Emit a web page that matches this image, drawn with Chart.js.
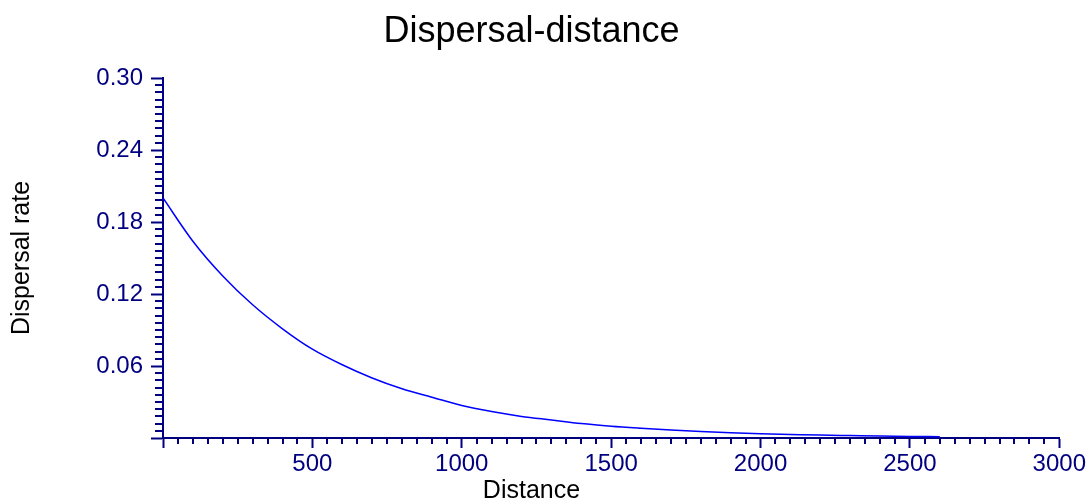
<!DOCTYPE html>
<html>
<head>
<meta charset="utf-8">
<title>Dispersal-distance</title>
<script src="https://cdn.jsdelivr.net/npm/chart.js@4.4.1/dist/chart.umd.min.js"></script>
<style>
  html, body { margin: 0; padding: 0; background: #fff; }
  #wrap { width: 1090px; height: 504px; position: relative; }
</style>
</head>
<body>
<div id="wrap"><canvas id="chart"></canvas></div>
<script>
// values
const distances = [0, 100, 200, 300, 400, 500, 600, 700, 800, 900, 1000, 1100, 1200, 1300,
                   1400, 1500, 1600, 1700, 1800, 1900, 2000, 2100, 2200, 2300, 2400, 2500, 2600];
const rates = [0.200, 0.164, 0.135, 0.111, 0.091, 0.074, 0.061, 0.050, 0.041, 0.034, 0.027,
               0.022, 0.018, 0.015, 0.012, 0.0098, 0.0081, 0.0066, 0.0054, 0.0044, 0.0036,
               0.0030, 0.0024, 0.0020, 0.0016, 0.0013, 0.0011];

const xRange = [0, 3000];
const xMajorStep = 500;
const xMinorStep = 50;
const yRange = [0, 0.30];
const yMajorStep = 0.06;
const yMinorStep = 0.006;

const NAVY = '#000080';
const FONT = 'Liberation Sans, Arial, sans-serif';

// small minor ticks between the labelled ones
const minorTicks = {
    id: 'minorTicks',
    afterDraw(chart) {
        const ctx = chart.ctx;
        const xs = chart.scales.x;
        const ys = chart.scales.y;
        ctx.save();
        ctx.strokeStyle = NAVY;
        ctx.lineWidth = 2;
        ctx.beginPath();
        const nx = Math.round((xRange[1] - xRange[0]) / xMinorStep);
        for (let i = 0; i <= nx; i++) {
            const v = xRange[0] + i * xMinorStep;
            if (i % 10 === 0) continue;
            const px = Math.round(xs.getPixelForValue(v));
            ctx.moveTo(px, xs.top);
            ctx.lineTo(px, xs.top + 6);
        }
        const ny = Math.round((yRange[1] - yRange[0]) / yMinorStep);
        for (let i = 0; i <= ny; i++) {
            const v = yRange[0] + i * yMinorStep;
            if (i % 10 === 0) continue;
            const py = Math.round(ys.getPixelForValue(v));
            ctx.moveTo(ys.right, py);
            ctx.lineTo(ys.right - 8, py);
        }
        ctx.stroke();
        ctx.restore();
    }
};

new Chart(document.getElementById('chart'), {
    type: 'line',
    data: {
        datasets: [{
            data: distances.map((d, i) => ({ x: d, y: rates[i] })),
            borderColor: '#0000ff',
            borderWidth: 1.5,
            pointRadius: 0,
            fill: false,
            cubicInterpolationMode: 'monotone'
        }]
    },
    options: {
        responsive: true,
        maintainAspectRatio: false,
        animation: false,
        layout: { padding: { left: 0, right: 27, top: 0, bottom: 0 } },
        plugins: {
            legend: { display: false },
            tooltip: { enabled: false },
            title: {
                display: true,
                text: 'Dispersal-distance',
                color: '#000',
                font: { family: FONT, size: 36, weight: 'normal', lineHeight: 1 },
                padding: { top: 14, bottom: 28 }
            },
            subtitle: {
                display: true,
                position: 'bottom',
                text: 'Distance',
                color: '#000',
                font: { family: FONT, size: 25, weight: 'normal', lineHeight: 1 },
                padding: { top: 8, bottom: 0 }
            }
        },
        scales: {
            x: {
                type: 'linear',
                min: xRange[0],
                max: xRange[1],
                afterFit: (s) => { s.height = 33; },
                border: { display: true, color: NAVY, width: 2 },
                grid: { drawOnChartArea: false, drawTicks: true, tickLength: 10, tickColor: NAVY, tickWidth: 2 },
                ticks: {
                    stepSize: xMajorStep,
                    color: NAVY,
                    padding: 4,
                    maxRotation: 0,
                    font: { family: FONT, size: 24, lineHeight: 1 },
                    callback: (v) => (v === 0 ? '' : String(v))
                }
            },
            y: {
                min: yRange[0],
                max: yRange[1],
                afterFit: (s) => { s.width = 163; },
                border: { display: true, color: NAVY, width: 2 },
                grid: { drawOnChartArea: false, drawTicks: true, tickLength: 12, tickColor: NAVY, tickWidth: 2 },
                ticks: {
                    stepSize: yMajorStep,
                    color: NAVY,
                    padding: 8,
                    font: { family: FONT, size: 24, lineHeight: 1 },
                    callback: (v) => (v === 0 ? '' : Number(v).toFixed(2))
                },
                title: {
                    display: true,
                    text: 'Dispersal rate',
                    color: '#000',
                    font: { family: FONT, size: 25, lineHeight: 1 },
                    padding: { top: 10, bottom: 0 }
                }
            }
        }
    },
    plugins: [minorTicks]
});
</script>
</body>
</html>
